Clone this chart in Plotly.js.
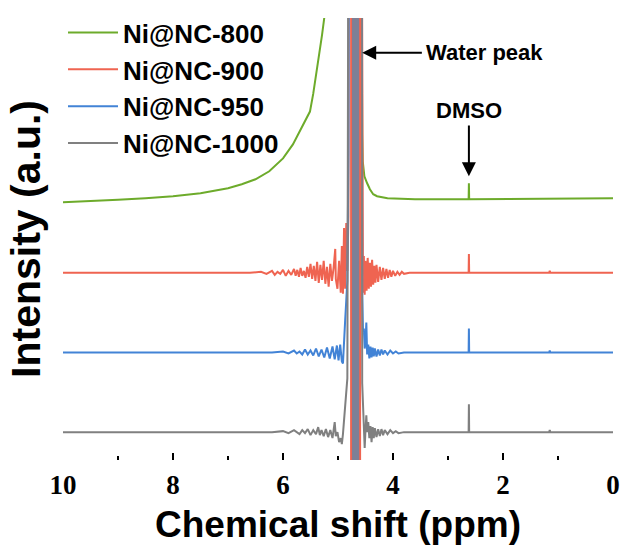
<!DOCTYPE html>
<html>
<head>
<meta charset="utf-8">
<script src="https://cdn.plot.ly/plotly-3.0.1.min.js"></script>
<style>html,body{margin:0;padding:0;background:#fff}#chart{width:622px;height:554px}</style>
</head>
<body>
<div id="chart"></div>
<script>
// ---- data (ppm, intensity a.u.) ----
const seriesNames = ["Ni@NC-800", "Ni@NC-900", "Ni@NC-950", "Ni@NC-1000"];

const ppm800 = [10, 9.5, 9.0, 8.5, 8.0, 7.5, 7.0, 6.75, 6.5, 6.25, 6.0, 5.82, 5.7, 5.6, 5.51, 5.45, 5.38, 5.33, 5.29, 5.25, 5.2, 4.58, 4.575, 4.56, 4.55, 4.52, 4.47, 4.42, 4.36, 4.29, 4.1, 3.6, 2.625, 2.62, 2.615, 0];
const int800 = [259, 260, 261.5, 263, 265, 268, 273, 277, 282, 290, 303, 317, 330, 340, 350, 368, 393, 410, 427, 444, 600, 600, 410, 327, 300, 285, 278, 272, 267, 265, 263, 262, 262, 278, 262, 263];

const ppm900 = [10, 8, 6.6, 6.4, 6.3, 6.2, 6.15, 6.1, 6.05, 6.0, 5.95, 5.9, 5.85, 5.8, 5.77, 5.74, 5.71, 5.68, 5.65, 5.62, 5.59, 5.56, 5.53, 5.5, 5.47, 5.44, 5.41, 5.38, 5.35, 5.32, 5.29, 5.26, 5.23, 5.2, 5.17, 5.14, 5.11, 5.08, 5.05, 5.04, 5.01, 4.98, 4.95, 4.93, 4.91, 4.89, 4.87, 4.85, 4.83, 4.81, 4.80,
  4.57, 4.56, 4.545, 4.53, 4.515, 4.50, 4.48, 4.46, 4.44, 4.42, 4.40, 4.38, 4.36, 4.34, 4.32, 4.30, 4.27, 4.24, 4.21, 4.18, 4.15, 4.12, 4.09, 4.06, 4.03, 4.0, 3.96, 3.92, 3.88, 3.84, 3.8, 3.7, 3.0, 2.625, 2.62, 2.615, 1.16, 1.15, 1.14, 0];
const int900 = [188, 188, 188, 189, 187, 190, 186, 189, 187, 191, 185, 190, 186, 192, 185, 191, 184, 193, 185, 190, 183, 194, 184, 197, 182, 195, 180, 199, 178, 196, 181, 200, 177, 194, 174, 197, 180, 193, 212, 182, 172, 200, 168, 215, 167, 233, 172, 238, 190, 245, 600,
  600, 235, 168, 205, 166, 200, 170, 203, 172, 198, 174, 201, 176, 195, 178, 196, 179, 194, 181, 193, 182, 192, 183, 191, 184, 190, 185, 189, 186, 189, 187, 188, 188, 188, 207, 188, 188, 190, 188, 188];

const ppm950 = [10, 7, 6.2, 6.0, 5.9, 5.8, 5.75, 5.7, 5.65, 5.6, 5.55, 5.5, 5.45, 5.4, 5.35, 5.3, 5.25, 5.2, 5.15, 5.1, 5.06, 5.02, 4.99, 4.96, 4.93, 4.91, 4.89, 4.87, 4.85, 4.83, 4.81, 4.80,
  4.57, 4.56, 4.545, 4.53, 4.515, 4.50, 4.485, 4.47, 4.45, 4.43, 4.41, 4.39, 4.37, 4.35, 4.33, 4.30, 4.27, 4.24, 4.21, 4.18, 4.15, 4.1, 4.05, 4.0, 3.95, 3.9, 3.8, 3.5, 2.625, 2.62, 2.615, 1.16, 1.15, 1.14, 0];
const int950 = [108, 108, 108, 109, 107, 110, 107, 109, 106, 111, 106, 110, 105, 112, 104, 111, 103, 113, 102, 114, 101, 115, 100, 116, 99, 97, 125, 140, 160, 180, 310, 600,
  600, 170, 128, 132, 112, 118, 138, 106, 116, 102, 114, 103, 113, 104, 112, 104, 111, 105, 111, 106, 110, 106, 110, 107, 109, 107, 108, 108, 108, 132, 108, 108, 110, 108, 108];

const ppm1000 = [10, 7, 6.2, 6.0, 5.9, 5.8, 5.7, 5.65, 5.6, 5.55, 5.5, 5.45, 5.4, 5.36, 5.33, 5.3, 5.26, 5.22, 5.18, 5.14, 5.1, 5.06, 5.04, 5.01, 4.98, 4.95, 4.93, 4.91, 4.89, 4.87, 4.85, 4.83, 4.81,
  4.57, 4.56, 4.545, 4.53, 4.515, 4.50, 4.485, 4.47, 4.45, 4.43, 4.41, 4.39, 4.37, 4.35, 4.33, 4.30, 4.27, 4.24, 4.21, 4.18, 4.15, 4.1, 4.05, 4.0, 3.95, 3.9, 3.8, 3.6, 2.625, 2.62, 2.615, 1.16, 1.15, 1.14, 0];
const int1000 = [28, 28, 28, 29, 27, 30, 26, 30, 27, 31, 25, 30, 26, 33, 25, 30, 24, 31, 23, 30, 22, 38, 24, 28, 18, 22, 16, 26, 40, 55, 68, 82, 600,
  600, 77, 50, 35, 12, 30, 45, 28, 38, 22, 34, 18, 33, 22, 32, 23, 31, 24, 31, 25, 30, 26, 30, 27, 29, 27, 28, 28, 28, 56, 28, 28, 30, 28, 28];

// water peak (truncated, drawn as a band)
const waterPpm = [4.68];
const waterTop = [444];

const xTickVals = [10, 8, 6, 4, 2, 0];
const xTickText = ["10", "8", "6", "4", "2", "0"];

// ---- styles ----
const colors = ["#6dab2b", "#ef6451", "#4283d6", "#808080"];
const ppmArr = [ppm800, ppm900, ppm950, ppm1000];
const intArr = [int800, int900, int950, int1000];

const traces = [];
for (let i = 0; i < 4; i++) {
  traces.push({
    type: "scatter", mode: "lines", name: seriesNames[i],
    x: ppmArr[i], y: intArr[i],
    line: {color: colors[i], width: 2}
  });
}
traces.push({type: "bar", x: waterPpm, y: waterTop, width: 0.2, zorder: 5,
  marker: {color: "#ef6451", line: {width: 0}}, showlegend: false, hoverinfo: "skip"});
traces.push({type: "bar", x: waterPpm, y: waterTop, width: 0.13, zorder: 6,
  marker: {color: "#7e8096", line: {width: 0}}, showlegend: false, hoverinfo: "skip"});

const layout = {
  width: 622, height: 554,
  margin: {l: 63, r: 9, t: 16, b: 94},
  paper_bgcolor: "#ffffff", plot_bgcolor: "#ffffff",
  barmode: "overlay",
  showlegend: true,
  legend: {
    x: 0.0, y: 1.02, xanchor: "left", yanchor: "top",
    bgcolor: "rgba(0,0,0,0)", borderwidth: 0,
    font: {family: "Liberation Sans, Arial, sans-serif", size: 26, color: "#000", weight: "bold"},
    itemwidth: 50, tracegroupgap: 0
  },
  xaxis: {
    range: [10, 0], showgrid: false, zeroline: false,
    tickvals: xTickVals, ticktext: xTickText,
    ticks: "inside", ticklen: 7, tickwidth: 2, tickcolor: "#000",
    minor: {dtick: 1, ticks: "inside", ticklen: 4, tickwidth: 2, tickcolor: "#000"},
    showline: true, linecolor: "#000", linewidth: 2, mirror: true,
    tickfont: {family: "Liberation Serif, Times New Roman, serif", size: 27, color: "#000", weight: "bold"},
    title: {text: "Chemical shift (ppm)", standoff: 12,
      font: {family: "Liberation Sans, Arial, sans-serif", size: 37, color: "#000", weight: "bold"}}
  },
  yaxis: {
    range: [0, 444], showgrid: false, zeroline: false,
    showticklabels: false, ticks: "",
    showline: true, linecolor: "#000", linewidth: 2, mirror: true,
    title: {text: "Intensity (a.u.)", standoff: 8,
      font: {family: "Liberation Sans, Arial, sans-serif", size: 41, color: "#000", weight: "bold"}}
  },
  annotations: [
    {x: 4.56, y: 409, xref: "x", yref: "y", ax: 2.33, ay: 409, axref: "x", ayref: "y",
     text: "Water peak", showarrow: true, arrowhead: 2, arrowsize: 1.4, arrowwidth: 2, arrowcolor: "#000",
     borderpad: 4,
     font: {family: "Liberation Sans, Arial, sans-serif", size: 22, color: "#000", weight: "bold"}},
    {x: 2.62, y: 285, xref: "x", yref: "y", ax: 2.62, ay: 351, axref: "x", ayref: "y",
     text: "DMSO", showarrow: true, arrowhead: 2, arrowsize: 1.4, arrowwidth: 2, arrowcolor: "#000",
     borderpad: 2,
     font: {family: "Liberation Sans, Arial, sans-serif", size: 22, color: "#000", weight: "bold"}}
  ]
};

Plotly.newPlot("chart", traces, layout, {staticPlot: true, displayModeBar: false});
</script>
</body>
</html>
